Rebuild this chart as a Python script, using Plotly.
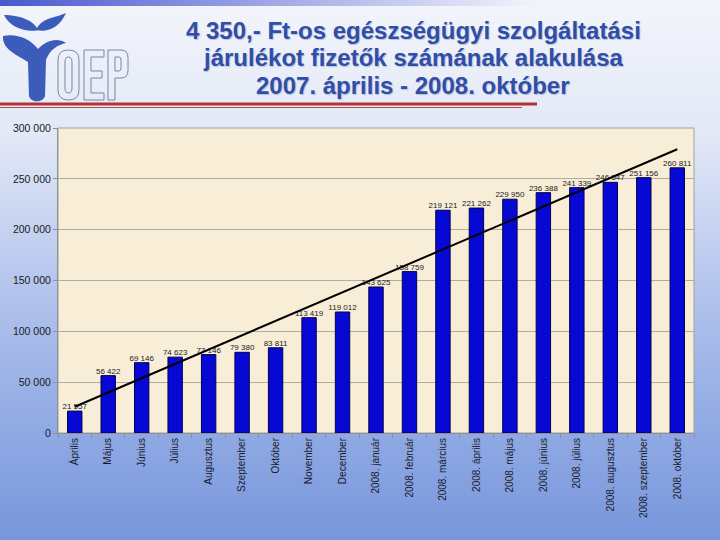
import base64
import plotly.graph_objects as go

# categories and values
months = ["Április", "Május", "Június", "Július", "Augusztus", "Szeptember",
          "Október", "November", "December", "2008. január", "2008. február",
          "2008. március", "2008. április", "2008. május", "2008. június",
          "2008. július", "2008. augusztus", "2008. szeptember", "2008. október"]
payers = [21557, 56422, 69146, 74623, 77146, 79380, 83811, 113419, 119012,
          143625, 158759, 219121, 221262, 229950, 236388, 241339, 246547,
          251156, 260811]

# linear trendline end points (as drawn)
trend_start = 25800
trend_end = 279100

y_ticks = [0, 50000, 100000, 150000, 200000, 250000, 300000]

title_lines = ["4 350,- Ft-os egészségügyi szolgáltatási",
               "járulékot fizetők számának alakulása",
               "2007. április - 2008. október"]


def fmt(v):
    return f"{v:,}".replace(",", " ")


# plot area in pixels
W, H = 720, 540
L, R, T, B = 58, 26, 128, 107
PW, PH = W - L - R, H - T - B


def px(x):
    return (x - L) / PW


def py(y):
    return (H - B - y) / PH


def path(cmds):
    # cmds: list of (letter, [x, y, ...]) in pixels -> paper coords
    out = []
    for c, pts in cmds:
        s = c
        for i in range(0, len(pts), 2):
            s += f"{px(pts[i]):.4f},{py(pts[i+1]):.4f}" + (" " if i + 2 < len(pts) else "")
        out.append(s)
    return "".join(out)


def poly(pts):
    # closed polygon from pixel points, one L per point
    cmds = [("M", list(pts[0]))] + [("L", list(p)) for p in pts[1:]] + [("Z", [])]
    return path(cmds)


# slide background as an svg gradient
svg = f"""<svg xmlns='http://www.w3.org/2000/svg' width='{W}' height='{H}'>
<defs>
<linearGradient id='v' x1='0' y1='0' x2='0' y2='1'>
<stop offset='0' stop-color='#f3f5fb'/><stop offset='0.25' stop-color='#e2e8f6'/>
<stop offset='0.5' stop-color='#b9c8ee'/><stop offset='0.75' stop-color='#95aee5'/>
<stop offset='1' stop-color='#7896dc'/></linearGradient>
<linearGradient id='h' x1='0' y1='0' x2='1' y2='0'>
<stop offset='0' stop-color='#4a58d0'/><stop offset='0.75' stop-color='#f3f5fb'/>
<stop offset='1' stop-color='#f3f5fb'/></linearGradient>
</defs>
<rect width='{W}' height='{H}' fill='url(#v)'/>
<rect width='{W}' height='6' fill='url(#h)'/>
</svg>"""
bg_src = "data:image/svg+xml;base64," + base64.b64encode(svg.encode()).decode()

fig = go.Figure()

fig.add_trace(go.Bar(
    x=months, y=payers,
    marker=dict(color="#0808d4", line=dict(color="#000050", width=1)),
    hoverinfo="x+y",
))

# value labels sit a little higher above the bars than plotly's own outside text
fig.add_trace(go.Scatter(
    x=months, y=payers, mode="text",
    text=[fmt(v) for v in payers], textposition="top center",
    textfont=dict(size=8, color="#1a1a1a"), cliponaxis=False,
    hoverinfo="skip",
))

fig.add_trace(go.Scatter(
    x=[months[0], months[-1]], y=[trend_start, trend_end],
    mode="lines", line=dict(color="black", width=2),
    hoverinfo="skip",
))

logo_blue = "#3c5cbc"
shapes = [
    # parchment plot area
    dict(type="rect", xref="paper", yref="paper", x0=0, y0=0, x1=1, y1=1,
         fillcolor="#f8eed8", line=dict(color="#a0a0a0", width=1), layer="below"),
    # red rule under the title
    dict(type="line", xref="paper", yref="paper", x0=px(0), x1=px(537),
         y0=py(104), y1=py(104), line=dict(color="#b03434", width=3)),
    dict(type="line", xref="paper", yref="paper", x0=px(0), x1=px(522),
         y0=py(107.5), y1=py(107.5), line=dict(color="#c04848", width=1)),
    # logo: left leaf
    dict(type="path", xref="paper", yref="paper", fillcolor=logo_blue, line=dict(width=0),
         path=path([("M", [4, 15]), ("C", [10, 28, 28, 33, 38, 30]),
                    ("C", [34, 20, 18, 15, 4, 15]), ("Z", [])])),
    # logo: right leaf
    dict(type="path", xref="paper", yref="paper", fillcolor=logo_blue, line=dict(width=0),
         path=path([("M", [36, 30]), ("C", [48, 33, 60, 27, 66, 13]),
                    ("C", [56, 18, 42, 17, 36, 30]), ("Z", [])])),
    # logo: cup and stem
    dict(type="path", xref="paper", yref="paper", fillcolor=logo_blue, line=dict(width=0),
         path=path([("M", [3, 36]), ("C", [2, 50, 18, 55, 28, 62]),
                    ("L", [29, 96]), ("C", [31, 103, 43, 103, 45, 96]),
                    ("L", [46, 60]), ("C", [50, 49, 58, 45, 66, 43]),
                    ("C", [56, 37, 46, 41, 38, 49]), ("C", [30, 38, 15, 33, 3, 36]),
                    ("Z", [])])),
]

# logo: outlined OEP letters
ol = dict(color="#7a84a8", width=1)
letters = [
    path([("M", [58, 60]), ("Q", [58, 50, 68.5, 50]), ("Q", [79, 50, 79, 60]),
          ("L", [79, 90]), ("Q", [79, 100, 68.5, 100]), ("Q", [58, 100, 58, 90]), ("Z", [])]),
    path([("M", [65, 62]), ("Q", [65, 57, 68.5, 57]), ("Q", [72, 57, 72, 62]),
          ("L", [72, 88]), ("Q", [72, 93, 68.5, 93]), ("Q", [65, 93, 65, 88]), ("Z", [])]),
    poly([(84, 50), (104, 50), (104, 57), (91, 57), (91, 71), (102, 71), (102, 78),
          (91, 78), (91, 93), (104, 93), (104, 100), (84, 100)]),
    path([("M", [108, 100]), ("L", [108, 50]), ("L", [121, 50]), ("Q", [128, 50, 128, 58]),
          ("L", [128, 70]), ("Q", [128, 78, 121, 78]), ("L", [115, 78]), ("L", [115, 100]),
          ("Z", [])]),
    path([("M", [115, 57]), ("L", [119, 57]), ("Q", [121, 57, 121, 60]), ("L", [121, 68]),
          ("Q", [121, 71, 119, 71]), ("L", [115, 71]), ("Z", [])]),
]
for p in letters:
    shapes.append(dict(type="path", xref="paper", yref="paper", line=ol, path=p))

annotations = []
for i, line in enumerate(title_lines):
    annotations.append(dict(
        text=line, xref="paper", yref="paper", x=px(413), y=py(30 + 28 * i),
        xanchor="center", yanchor="middle", showarrow=False,
        font=dict(family="Arial, Liberation Sans", size=24, color="#2f4ea8",
                  weight="bold", shadow="1px 1px 1px #b8c0d8"),
    ))

fig.update_layout(
    width=W, height=H,
    margin=dict(l=L, r=R, t=T, b=B),
    paper_bgcolor="#dfe6f6",
    plot_bgcolor="rgba(0,0,0,0)",
    showlegend=False,
    bargap=0.57,
    font=dict(family="Arial, Liberation Sans", color="#1a1a1a"),
    images=[dict(source=bg_src, xref="paper", yref="paper", x=px(0), y=py(0),
                 sizex=W / PW, sizey=H / PH, xanchor="left", yanchor="top",
                 sizing="stretch", layer="below")],
    shapes=shapes,
    annotations=annotations,
)

fig.update_xaxes(
    type="category", range=[-0.5, len(months) - 0.5],
    tickangle=-90, tickfont=dict(size=10, color="#1a1a2a"),
    showline=True, linecolor="#909090", ticks="outside", ticklen=4,
    tickcolor="#909090", tickson="boundaries", showgrid=False, automargin=False,
)
fig.update_yaxes(
    range=[0, 300000], tickvals=y_ticks, ticktext=[fmt(v) for v in y_ticks],
    tickfont=dict(size=10.5, color="#1a1a1a"), showgrid=True,
    gridcolor="#b0aca0", gridwidth=1, showline=True, linecolor="#909090",
    ticks="outside", ticklen=4, tickcolor="#909090", zeroline=False, automargin=False,
)

# page body has an 8px default margin; drop it so the slide sits at 0,0
fig.write_html("out.html", config={"displayModeBar": False},
               post_script="document.body.style.margin='0';")
